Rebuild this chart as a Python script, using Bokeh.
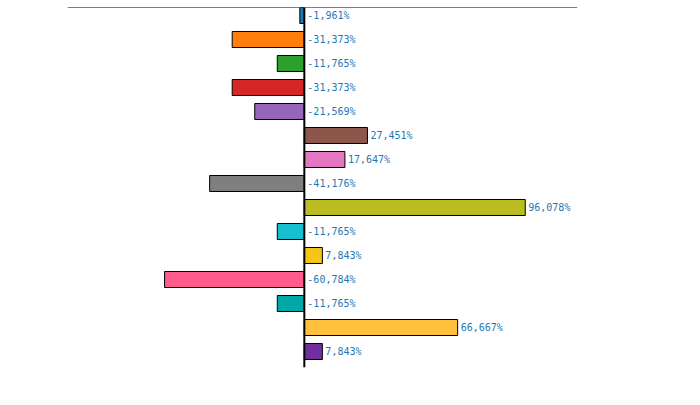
from bokeh.plotting import figure
from bokeh.models import Range1d, Span, Label, ColumnDataSource
from bokeh.embed import file_html
from bokeh.resources import INLINE
from bokeh.core.properties import value

categories = ["12", "13", "14", "15", "16", "18", "19", "28", "58", "90", "102", "112", "126", "145", "146"]
values = [-1.961, -31.373, -11.765, -31.373, -21.569, 27.451, 17.647, -41.176, 96.078, -11.765, 7.843, -60.784, -11.765, 66.667, 7.843]
colors = ["#1f77b4", "#ff7f0e", "#2ca02c", "#d62728", "#9467bd", "#8c564b", "#e377c2", "#7f7f7f",
          "#bcbd22", "#17becf", "#f5c518", "#ff5c8d", "#00a8a8", "#ffc13b", "#7030a0"]

n = len(categories)
ys = list(range(n))
labels = [f"{v:.3f}".replace(".", ",") + "%" for v in values]
lx = [max(v, 0) for v in values]

p = figure(width=684, height=389, output_backend="svg", toolbar_location=None,
           x_range=Range1d(-103, 118.8), y_range=Range1d(n - 0.333, -0.333),
           min_border_left=67, min_border_right=107, min_border_top=7, min_border_bottom=22)
p.axis.visible = False
p.grid.visible = False
p.outline_line_color = None

src = ColumnDataSource(dict(y=ys, v=values, c=colors, lx=lx, t=labels))
p.hbar(y="y", left=0, right="v", height=0.667, fill_color="c", line_color="black", line_width=1, source=src)
p.text(x="lx", y="y", text="t", source=src, x_offset=3, text_baseline="middle",
       text_font=value("DejaVu Sans Mono"), text_font_size="10px", text_color="#1f77b4")

p.add_layout(Span(location=-0.333, dimension="width", line_color="black", line_width=1))
p.add_layout(Span(location=0, dimension="height", line_color="black", line_width=2))
p.add_layout(Label(x=0, y=-0.333, text="0", text_align="center", text_baseline="bottom", y_offset=2,
                   text_font="DejaVu Sans Mono", text_font_size="10px"))

for i, c in enumerate(categories):
    p.add_layout(Label(x=0, x_units="screen", y=i, text=c, text_baseline="middle", x_offset=-67,
                       text_font="DejaVu Sans", text_font_style="bold", text_font_size="11px",
                       text_color="red" if c == "146" else "black"))

open("out.html", "w").write(file_html(p, INLINE))
